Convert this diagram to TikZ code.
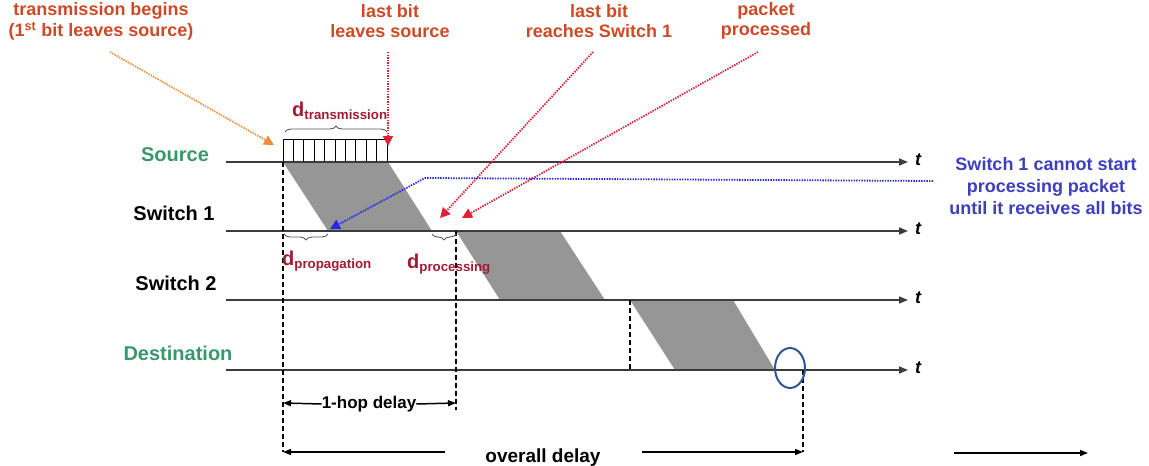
\documentclass[tikz,border=0pt]{standalone}
\usepackage{fontspec}
\setmainfont{Liberation Sans}
\usetikzlibrary{arrows.meta,decorations.pathreplacing,calc}
\definecolor{labcol}{RGB}{206,74,38}
\definecolor{dcol}{RGB}{160,28,52}
\definecolor{grn}{RGB}{58,150,108}
\definecolor{bluetxt}{RGB}{62,62,190}
\definecolor{bluedot}{RGB}{40,40,230}
\definecolor{orgdot}{RGB}{240,140,60}
\definecolor{reddot}{RGB}{225,30,50}
\definecolor{pktgray}{RGB}{150,150,150}
\definecolor{axcol}{RGB}{60,60,60}
\definecolor{ellcol}{RGB}{47,85,151}
\newcommand{\fs}[1]{\fontsize{#1}{#1}\selectfont}
\newcommand{\dlab}[1]{{\fs{20}d}\raisebox{-3pt}{\fs{13.3}#1}}
\begin{document}
\begin{tikzpicture}[x=1pt,y=-1pt,
  axis/.style={draw=axcol,line width=1.6pt,-{Triangle[length=9pt,width=7pt]}},
  toplab/.style={text=labcol,font=\bfseries\fs{18},align=center,inner sep=0pt},
  rowlab/.style={font=\bfseries\fs{20},inner sep=0pt},
  tlab/.style={font=\bfseries\itshape\fs{18},inner sep=0pt,anchor=west},
  dlabel/.style={text=dcol,font=\bfseries,inner sep=0pt,anchor=base west},
  callout/.style={line width=1.8pt,dash pattern=on 1.4pt off 1.2pt,-{Triangle[length=10pt,width=10pt]}},
  vdash/.style={line width=2pt,dash pattern=on 5pt off 3pt},
  brc/.style={draw=black!65,line width=0.9pt,decorate},
  dimarrow/.style={line width=1.5pt,-{Triangle[length=8pt,width=6pt]}}
]
\useasboundingbox (0,0) rectangle (1149,466);

% packets in flight
\fill[pktgray] (283,162) -- (388,162) -- (432,231) -- (328,231) -- cycle;
\fill[pktgray] (456,231) -- (560,231) -- (605,300) -- (500,300) -- cycle;
\fill[pktgray] (630,300) -- (733,300) -- (775,370) -- (675,370) -- cycle;

% packet bits at source
\draw[line width=1pt] (283,162) rectangle (387,139);
\foreach \i in {1,...,9} \draw[line width=1pt] ({283+\i*10.4},139) -- ({283+\i*10.4},162);

% time axes
\coordinate (s0) at (226,162); \coordinate (s1) at (908,162);
\coordinate (w0) at (226,231); \coordinate (w1) at (908,231);
\coordinate (x0) at (226,300); \coordinate (x1) at (908,300);
\coordinate (d0) at (226,370); \coordinate (d1) at (908,370);
\draw[axis] (s0) -- (s1);
\draw[axis] (w0) -- (w1);
\draw[axis] (x0) -- (x1);
\draw[axis] (d0) -- (d1);
\node[tlab] (ts) at (915,160) {t};
\node[tlab] (tw) at (915,229) {t};
\node[tlab] (tx) at (915,298) {t};
\node[tlab] (td) at (915,368) {t};

% row labels
\node[rowlab,text=grn] (src) at (175,155) {Source};
\node[rowlab] (sw1) at (174,213) {Switch 1};
\node[rowlab] (sw2) at (176,283) {Switch 2};
\node[rowlab,text=grn] (dst) at (178,353) {Destination};

% vertical dashed markers
\coordinate (a0) at (283,162); \coordinate (a1) at (283,452);
\coordinate (b0) at (456,231); \coordinate (b1) at (456,410);
\coordinate (c0) at (630,300); \coordinate (c1) at (630,370);
\coordinate (e0) at (803,370); \coordinate (e1) at (803,452);
\draw[vdash] (a0) -- (a1);
\draw[vdash] (b0) -- (b1);
\draw[vdash] (c0) -- (c1);
\draw[line width=1.2pt,dash pattern=on 5pt off 3pt] (e0) -- (e1);

% end-of-delivery mark
\draw[ellcol,line width=2pt] (790,368) ellipse (15 and 20);

% braces and delay labels
\coordinate (tb0) at (285,132); \coordinate (tb1) at (387,132);
\draw[brc,decoration={brace,amplitude=6pt}] (tb0) -- (tb1);
\node[dlabel] (dtr) at (292,116) {\dlab{transmission}};
\coordinate (pb0) at (284,234); \coordinate (pb1) at (328,234);
\draw[brc,decoration={brace,mirror,amplitude=6pt}] (pb0) -- (pb1);
\node[dlabel] (dpr) at (282,265) {\dlab{propagation}};
\coordinate (qb0) at (432,234); \coordinate (qb1) at (456,234);
\draw[brc,decoration={brace,mirror,amplitude=6pt}] (qb0) -- (qb1);
\node[dlabel] (dpc) at (407,268) {\dlab{processing}};

% top labels
\node[toplab] (l1) at (101,21) {transmission begins\\[2pt](1\textsuperscript{st} bit leaves source)};
\node[toplab] (l2) at (390,21) {last bit\\[2pt]leaves source};
\node[toplab] (l3) at (599,21) {last bit\\[2pt]reaches Switch 1};
\node[toplab] (l4) at (766,21) {packet\\[2pt]processed};

% callouts
\coordinate (o0) at (110,52); \coordinate (o1) at (274,145);
\draw[callout,orgdot] (o0) -- (o1);
\coordinate (r0) at (388,52); \coordinate (r1) at (388,146);
\draw[callout,reddot] (r0) -- (r1);
\coordinate (r2) at (593,52); \coordinate (r3) at (440,218);
\draw[callout,reddot] (r2) -- (r3);
\coordinate (r4) at (758,52); \coordinate (r5) at (462,218);
\draw[callout,reddot] (r4) -- (r5);

% blue note
\node[text=bluetxt,font=\bfseries\fs{18},align=center,inner sep=0pt] (note) at (1046,186)
  {Switch 1 cannot start\\[4pt]processing packet\\[4pt]until it receives all bits};
\coordinate (n0) at (933,181); \coordinate (n1) at (425,178); \coordinate (n2) at (330,229);
\draw[callout,bluedot] (n0) -- (n1) -- (n2);

% delays
\node[font=\bfseries\fs{17},inner sep=0pt] (hop) at (369,404) {1-hop delay};
\coordinate (h0) at (283,403); \coordinate (h1) at (456,403);
\draw[dimarrow] (hop.west) -- (h0);
\draw[dimarrow] (hop.east) -- (h1);
\node[font=\bfseries\fs{19},inner sep=0pt] (ovr) at (543,458) {overall delay};
\coordinate (v0) at (283,452); \coordinate (v1) at (803,452);
\coordinate (v2) at (445,452); \coordinate (v3) at (642,452);
\draw[dimarrow] (v2) -- (v0);
\draw[dimarrow] (v3) -- (v1);
\coordinate (z0) at (954,453); \coordinate (z1) at (1088,453);
\draw[dimarrow] (z0) -- (z1);
\end{tikzpicture}
\end{document}
